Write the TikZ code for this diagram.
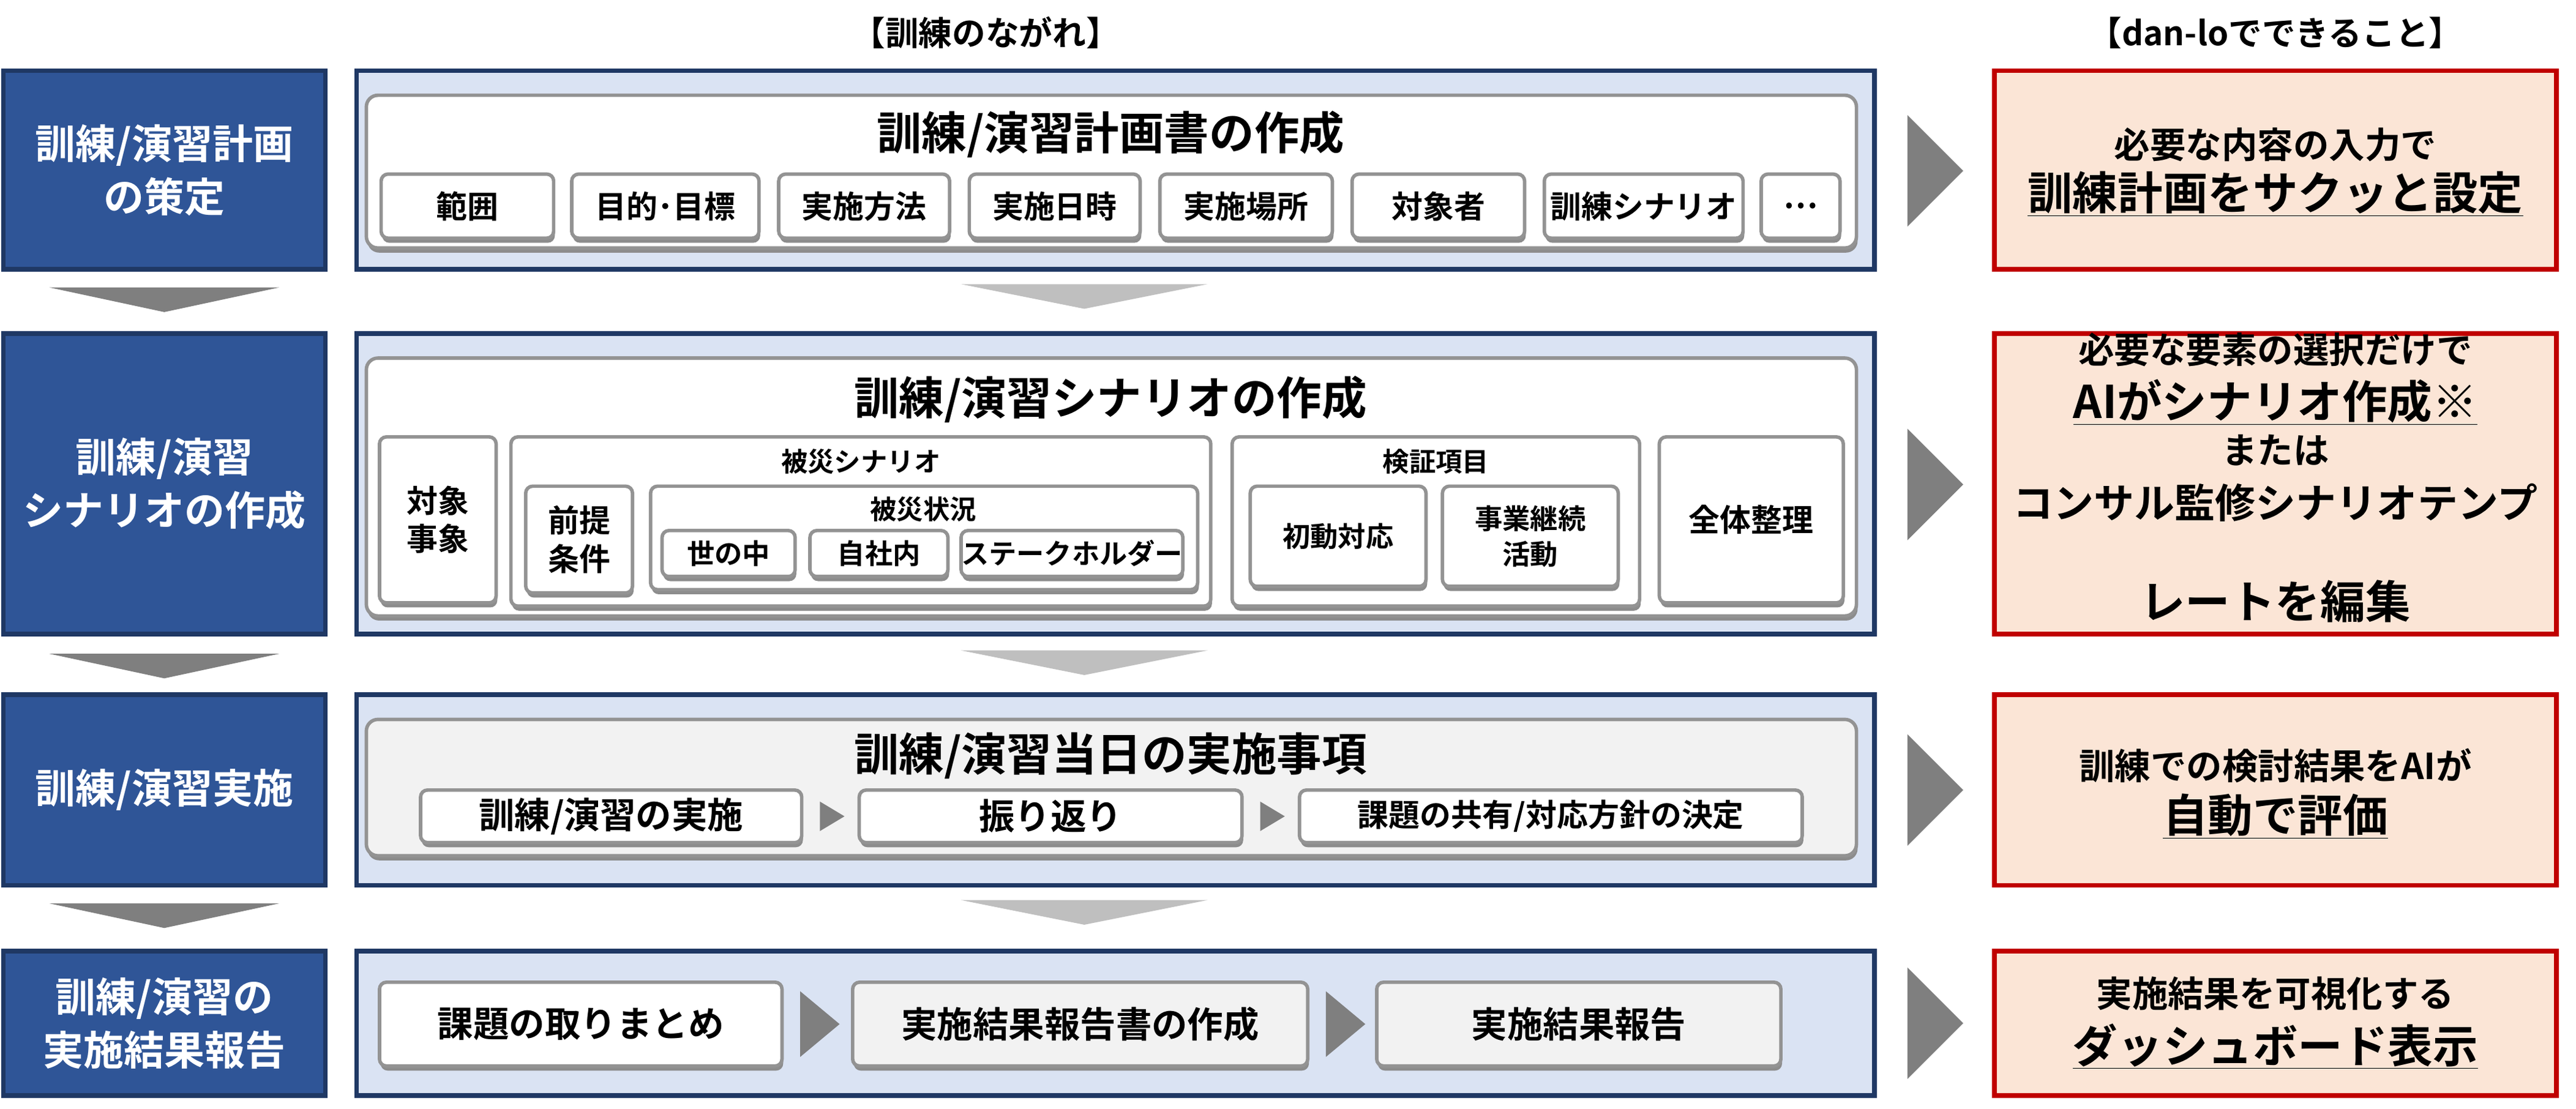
\documentclass[tikz,border=0pt]{standalone}
\usepackage{fontspec}
\setmainfont{Noto Sans CJK JP}[BoldFont=* Bold]
\usetikzlibrary{shadows}
\definecolor{navy}{HTML}{2F5597}
\definecolor{navyd}{HTML}{1F3864}
\definecolor{lblue}{HTML}{DAE3F3}
\definecolor{peach}{HTML}{FBE5D6}
\definecolor{dred}{HTML}{C00000}
\definecolor{lg}{HTML}{F2F2F2}
\definecolor{ga}{HTML}{7F7F7F}
\definecolor{gb}{HTML}{BFBFBF}
\newcommand{\B}[7]{\node[#2,minimum width={(#5-#3)*0.5mm},minimum height={(#6-#4)*0.5mm}] (#1) at ({(#3+#5)/2},{(#4+#6)/2}) {#7};}
\tikzset{
 base/.style={inner sep=0pt,align=center,font=\bfseries},
 leftbox/.style={base,fill=navy,draw=navyd,line width=4pt,text=white,font=\bfseries\fontsize{35}{46}\selectfont},
 cont/.style={base,fill=lblue,draw=navyd,line width=4pt},
 redbox/.style={base,fill=peach,draw=dred,line width=4pt},
 inner/.style={base,fill=white,draw=gray!85,line width=3pt,rounded corners=10pt,drop shadow={fill=gray!90,shadow xshift=1pt,shadow yshift=-4pt,opacity=1}},
 sub/.style={inner,rounded corners=6pt,font=\bfseries\fontsize{24}{31}\selectfont},
 sub1/.style={sub,font=\bfseries\fontsize{27}{33}\selectfont},
 subl/.style={sub,fill=lg,font=\bfseries\fontsize{31}{38}\selectfont},
 subw/.style={sub,font=\bfseries\fontsize{31}{38}\selectfont},
 ttl/.style={base,font=\bfseries\fontsize{39}{46}\selectfont},
 lbl/.style={base,font=\bfseries\fontsize{23}{29}\selectfont},
 hd/.style={base,font=\bfseries\fontsize{29}{34}\selectfont},
 rs/.style={base,font=\bfseries\fontsize{31}{38}\selectfont},
 rb/.style={base,font=\bfseries\fontsize{39}{46}\selectfont},
 darr/.style={fill=ga},
 larr/.style={fill=gb},
}
\begin{document}
\begin{tikzpicture}[x=0.5mm,y=-0.5mm]
\useasboundingbox (0,0) rectangle (1568,675);
\node[hd] (h1) at (600,20) {【訓練のながれ】};
\node[hd] (h2) at (1385,20) {【dan-loでできること】};
% left
\B{L1}{leftbox}{2}{43}{198}{164}{訓練/演習計画\\の策定}
\B{L2}{leftbox}{2}{203}{198}{386}{訓練/演習\\シナリオの作成}
\B{L3}{leftbox}{2}{423}{198}{539}{訓練/演習実施}
\B{L4}{leftbox}{2}{579}{198}{667}{訓練/演習の\\実施結果報告}
% containers
\B{C1}{cont}{217}{43}{1141}{164}{}
\B{C2}{cont}{217}{203}{1141}{386}{}
\B{C3}{cont}{217}{423}{1141}{539}{}
\B{C4}{cont}{217}{579}{1141}{667}{}
% red
\B{R1}{redbox}{1214}{43}{1556}{164}{}
\B{R2}{redbox}{1214}{203}{1556}{386}{}
\B{R3}{redbox}{1214}{423}{1556}{539}{}
\B{R4}{redbox}{1214}{579}{1556}{667}{}
% down arrows
\foreach \y in {175,398,550}{
 \fill[darr] (30,\y) -- (170,\y) -- (100,\y+15) -- cycle;
 \fill[larr] (585,\y-2) -- (735,\y-2) -- (660,\y+13) -- cycle;}
% right arrows
\foreach \c in {104,295,481,623}{
 \fill[darr] (1161,\c-34) -- (1195,\c) -- (1161,\c+34) -- cycle;}
% row1
\B{I1}{inner}{223}{58}{1130}{151}{}
\node[ttl] (t1) at (676,82) {訓練/演習計画書の作成};
\B{a1}{sub1}{232}{106}{337}{145}{範囲}
\B{a2}{sub1}{348}{106}{462}{145}{目的･目標}
\B{a3}{sub1}{474}{106}{578}{145}{実施方法}
\B{a4}{sub1}{590}{106}{694}{145}{実施日時}
\B{a5}{sub1}{706}{106}{811}{145}{実施場所}
\B{a6}{sub1}{823}{106}{928}{145}{対象者}
\B{a7}{sub1}{940}{106}{1061}{145}{訓練シナリオ}
\B{a8}{sub1}{1072}{106}{1120}{145}{…}
% row2
\B{I2}{inner}{223}{218}{1130}{375}{}
\node[ttl] (t2) at (676,243) {訓練/演習シナリオの作成};
\B{b1}{sub1}{231}{266}{302}{367}{対象\\事象}
\B{b2}{sub}{311}{266}{737}{369}{}
\node[lbl] (b2l) at (524,281) {被災シナリオ};
\B{b3}{sub1}{320}{296}{385}{361}{前提\\条件}
\B{b4}{sub}{396}{296}{729}{359}{}
\node[lbl] (b4l) at (562,310) {被災状況};
\B{b5}{sub}{403}{323}{484}{351}{世の中}
\B{b6}{sub}{493}{323}{577}{351}{自社内}
\B{b7}{sub}{585}{323}{720}{351}{ステークホルダー}
\B{b8}{sub}{750}{266}{998}{369}{}
\node[lbl] (b8l) at (874,281) {検証項目};
\B{b9}{sub}{761}{296}{868}{357}{初動対応}
\B{b10}{sub}{878}{296}{985}{357}{事業継続\\活動}
\B{b11}{sub1}{1010}{266}{1122}{367}{全体整理}
% row3
\B{I3}{inner,fill=lg}{223}{438}{1130}{521}{}
\node[ttl] (t3) at (676,460) {訓練/演習当日の実施事項};
\B{c1}{subw}{256}{481}{488}{513}{訓練/演習の実施}
\B{c2}{subw}{523}{481}{756}{513}{振り返り}
\B{c3}{subw,font=\bfseries\fontsize{27}{33}\selectfont}{791}{481}{1097}{513}{課題の共有/対応方針の決定}
\fill[darr] (c1.east)++(10,-9) -- ++(15,9) -- ++(-15,9) -- cycle;
\fill[darr] (c2.east)++(10,-9) -- ++(15,9) -- ++(-15,9) -- cycle;
% row4
\B{d1}{subw}{231}{598}{476}{649}{課題の取りまとめ}
\B{d2}{subl}{519}{598}{796}{649}{実施結果報告書の作成}
\B{d3}{subl}{838}{598}{1084}{649}{実施結果報告}
\fill[darr] (d1.east)++(10,-20) -- ++(24,20) -- ++(-24,20) -- cycle;
\fill[darr] (d2.east)++(10,-20) -- ++(24,20) -- ++(-24,20) -- cycle;
% right texts
\node[rs] (r1a) at (1385,88) {必要な内容の入力で};
\node[rb] (r1b) at (1385,118) {\underline{訓練計画をサクッと設定}};
\node[rs] (r2a) at (1385,213) {必要な要素の選択だけで};
\node[rb] (r2b) at (1385,245) {\underline{AIがシナリオ作成※}};
\node[rs] (r2c) at (1385,274) {または};
\node[rb,font=\bfseries\fontsize{35}{42}\selectfont] (r2d) at (1385,306) {コンサル監修シナリオテンプ};
\node[rb] (r2e) at (1385,366) {レートを編集};
\node[rs] (r3a) at (1385,466) {訓練での検討結果をAIが};
\node[rb] (r3b) at (1385,497) {\underline{自動で評価}};
\node[rs] (r4a) at (1385,605) {実施結果を可視化する};
\node[rb] (r4b) at (1385,637) {\underline{ダッシュボード表示}};
\end{tikzpicture}
\end{document}
